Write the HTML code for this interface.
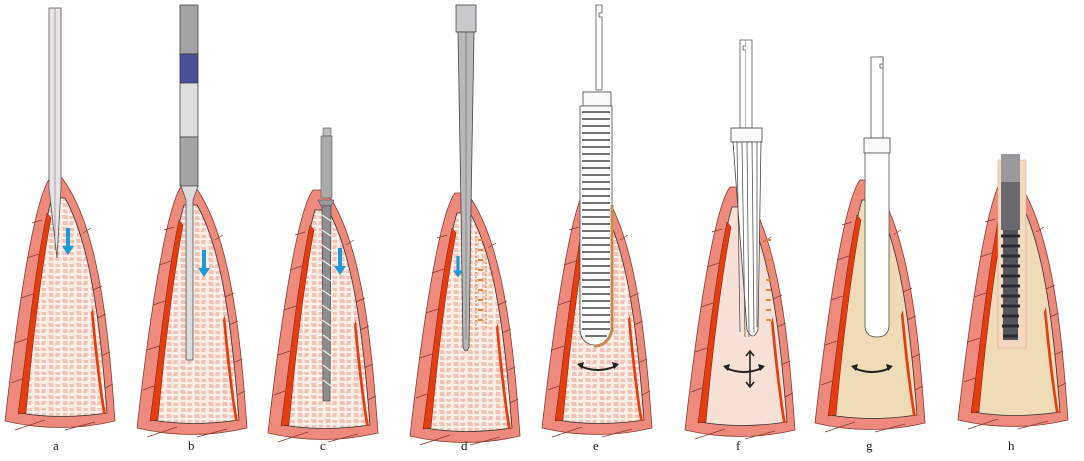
<!DOCTYPE html>
<html><head><meta charset="utf-8"><style>
html,body{margin:0;padding:0;background:#fff;}
svg{display:block;}
text{font-family:"Liberation Serif",serif;font-size:13px;fill:#222;}
</style></head><body>
<svg width="1084" height="461" viewBox="0 0 1084 461" xmlns="http://www.w3.org/2000/svg">
<defs>
<pattern id="bone" width="14" height="12" patternUnits="userSpaceOnUse">
<rect width="14" height="12" fill="#faefe6"/>
<path d="M1,1 h5 l1,4 h-5z M8,2 h5 v3 h-4z M2,7 h4 l1,4 h-5z M9,7 h4 l-1,4 h-4z" fill="#f2c4b8"/>
</pattern>
<g id="gum">
<path d="M45,0 C30,20 14,120 0,243 Q55,256 110,243 C104,160 95,50 57,0 Z" fill="#ee8a7c" stroke="#8a3a30" stroke-width="0.8"/>
<path d="M27,45 l10,-3 M22,80 l12,-4 M16,120 l12,-4 M10,165 l12,-4 M6,205 l11,-4 M78,55 l8,-5 M88,112 l9,-4 M92,140 l9,-4 M96,178 l9,-4 M100,210 l8,-4 M10,252 l30,-10 M60,252 l30,-8" stroke="#8a3a30" stroke-width="0.7" fill="none"/>
</g>
<path id="inner" d="M47,20 C35,60 25,150 15,235 Q55,242 102,235 C96,160 88,70 60,20 Z"/>
<g id="cort">
<path d="M42,35 C30,90 22,170 13,236 L21,235 C27,170 35,100 46,40 Z" fill="#e63c10" stroke="#6a2010" stroke-width="0.5"/>
<path d="M88,130 C93,180 97,215 101,236 L98,236 C94,210 90,180 86,135Z" fill="#e63c10"/>
</g>
<g id="arr"><path d="M-2,0 h4 v18 h4 l-6,9 l-6,-9 h4z" fill="#1a9ad6"/></g>
<g id="harr"><path d="M0,6 Q18,14 36,6" stroke="#222" stroke-width="2" fill="none"/><path d="M-3,4 l7,-2 l-2,7z M39,4 l-7,-2 l2,7z" fill="#222"/></g>
</defs>

<g transform="translate(5,178)"><use href="#gum"/><use href="#inner" fill="url(#bone)" stroke="#333" stroke-width="0.8"/><use href="#cort"/></g>
<g transform="translate(137,185)"><use href="#gum"/><use href="#inner" fill="url(#bone)" stroke="#333" stroke-width="0.8"/><use href="#cort"/></g>
<g transform="translate(268,190)"><use href="#gum"/><use href="#inner" fill="url(#bone)" stroke="#333" stroke-width="0.8"/><use href="#cort"/></g>
<g transform="translate(410,193)"><use href="#gum"/><use href="#inner" fill="url(#bone)" stroke="#333" stroke-width="0.8"/><use href="#cort"/></g>
<g transform="translate(542,185)"><use href="#gum"/><use href="#inner" fill="url(#bone)" stroke="#333" stroke-width="0.8"/><use href="#cort"/></g>
<g transform="translate(685,187)"><use href="#gum"/><use href="#inner" fill="#f7e0d6" stroke="#333" stroke-width="0.8"/><use href="#cort"/></g>
<g transform="translate(815,180)"><use href="#gum"/><use href="#inner" fill="#efdcb6" stroke="#333" stroke-width="0.8"/><use href="#cort"/></g>
<g transform="translate(958,177)"><use href="#gum"/><use href="#inner" fill="#efdcb6" stroke="#333" stroke-width="0.8"/><use href="#cort"/></g>

<!-- a -->
<path d="M49,8 h12 v180 l-4,70 l-8,-70z" fill="#e8e4e6" stroke="#555" stroke-width="0.8"/>
<line x1="55" y1="8" x2="55" y2="250" stroke="#777" stroke-width="0.6"/>
<use href="#arr" transform="translate(68,228)"/>

<!-- b -->
<rect x="180" y="5" width="18" height="49" fill="#a4a4a6" stroke="#444" stroke-width="0.8"/>
<rect x="180" y="54" width="18" height="29" fill="#4a5199" stroke="#333" stroke-width="0.8"/>
<rect x="180" y="83" width="18" height="54" fill="#dedede" stroke="#444" stroke-width="0.8"/>
<rect x="180" y="137" width="18" height="49" fill="#a4a4a6" stroke="#444" stroke-width="0.8"/>
<path d="M181,186 l5,14 v160 h7 v-160 l5,-14z" fill="#dcdcdc" stroke="#555" stroke-width="0.8"/>
<use href="#arr" transform="translate(204,250)"/>

<!-- c -->
<rect x="323" y="128" width="8" height="8" fill="#bbb" stroke="#555" stroke-width="0.6"/>
<rect x="321" y="136" width="11" height="62" fill="#aaa" stroke="#555" stroke-width="0.6"/>
<path d="M318,200 l16,0 l-3,6 l-10,0z" fill="#999" stroke="#444" stroke-width="0.6"/>
<path d="M322,206 h9 l-1,195 h-7z" fill="#8d8d8f" stroke="#333" stroke-width="0.6"/>
<path d="M322,215 l9,6 M322,230 l9,6 M322,245 l9,6 M322,260 l9,6 M322,275 l9,6 M322,290 l9,6 M322,305 l9,6 M322,320 l9,6 M323,335 l8,6 M323,350 l8,6 M323,365 l8,6 M323,380 l8,6" stroke="#eee" stroke-width="1.2"/>
<use href="#arr" transform="translate(340,248)"/>

<!-- d -->
<rect x="456" y="5" width="20" height="27" fill="#c9c9cc" stroke="#444" stroke-width="0.8"/>
<path d="M458,32 h16 l-3,175 l-2,140 q-3,8 -6,0 l-2,-140z" fill="#b9b9bc" stroke="#444" stroke-width="0.8"/>
<line x1="466" y1="32" x2="466" y2="340" stroke="#666" stroke-width="0.6"/>
<use href="#arr" transform="translate(458,256) scale(0.8)"/>
<path d="M476,232 v100 M486,258 v70" stroke="#d4884a" stroke-width="1" stroke-dasharray="2,2"/>
<path d="M478,240 h5 M478,250 h5 M478,260 h5 M478,270 h5 M478,280 h5 M478,290 h5 M478,300 h5 M478,310 h5 M478,320 h5" stroke="#e08a3a" stroke-width="2"/>

<!-- e -->
<path d="M596,5 h6 v8 h-3 v4 h3 v73 h-6z" fill="#fff" stroke="#555" stroke-width="0.8"/>
<rect x="583" y="92" width="28" height="14" fill="#fafafa" stroke="#444" stroke-width="0.8"/>
<path d="M580,106 h32 v225 q-2,14 -16,14 q-14,0 -16,-14z" fill="#fff" stroke="#444" stroke-width="0.8"/>
<g stroke="#222" stroke-width="1.3">
<path d="M582,112 h28 M582,119 h28 M582,126 h28 M582,133 h28 M582,140 h28 M582,147 h28 M582,154 h28 M582,161 h28 M582,168 h28 M582,175 h28 M582,182 h28 M582,189 h28 M582,196 h28 M582,203 h28 M582,210 h28 M582,217 h28 M582,224 h28 M582,231 h28 M582,238 h28 M582,245 h28 M582,252 h28 M582,259 h28 M582,266 h28 M582,273 h28 M582,280 h28 M582,287 h28 M582,294 h28 M582,301 h28 M582,308 h28 M582,315 h28 M582,322 h28 M582,329 h28 M585,336 h22"/>
</g>
<path d="M612,205 v125 q-4,16 -18,16" stroke="#c88a55" stroke-width="3" fill="none"/>
<use href="#harr" transform="translate(580,360)"/>

<!-- f -->
<path d="M740,40 h6 v6 h-3 v4 h3 v78 h-6z" fill="#fff" stroke="#555" stroke-width="0.8"/>
<path d="M746,40 h6 v88 h-6" fill="#fff" stroke="#555" stroke-width="0.8"/>
<rect x="731" y="128" width="31" height="14" fill="#fafafa" stroke="#444" stroke-width="0.8"/>
<path d="M733,142 h28 l-3,188 q-5,12 -11,0z" fill="#fff" stroke="#444" stroke-width="0.8"/>
<path d="M737,142 l3,190 M742,142 l3,195 M747,142 l2,195 M752,142 l2,190 M757,142 l0,185" stroke="#555" stroke-width="0.8"/>
<path d="M766,240 h5 M766,250 h5 M766,260 h5 M766,270 h5 M766,280 h5 M766,290 h5 M766,300 h5 M766,310 h5 M766,320 h5" stroke="#e08a3a" stroke-width="2"/>
<use href="#harr" transform="translate(726,362)"/>
<path d="M750,352 v34 M746,356 l4,-5 l4,5 M746,382 l4,5 l4,-5" stroke="#222" stroke-width="1.6" fill="none"/>

<!-- g -->
<path d="M871,57 h12 v81 h-12z" fill="#fff" stroke="#555" stroke-width="0.8"/>
<path d="M878,57 h5 v7 h-3 v4 h3" fill="#fff" stroke="#555" stroke-width="0.8"/>
<rect x="864" y="138" width="26" height="15" fill="#fafafa" stroke="#444" stroke-width="0.8"/>
<path d="M865,153 h24 v172 q0,12 -12,12 q-12,0 -12,-12z" fill="#fff" stroke="#555" stroke-width="0.8"/>
<use href="#harr" transform="translate(854,362)"/>

<!-- h -->
<rect x="998" y="160" width="28" height="188" fill="#f4d8c0" stroke="#e0a898" stroke-width="0.6"/>
<rect x="1001" y="154" width="19" height="28" fill="#9a9a9e"/>
<rect x="1001" y="182" width="19" height="48" fill="#6a6a6e"/>
<path d="M1003,230 h15 v110 h-15z" fill="#55565a"/>
<g stroke="#2a2a2e" stroke-width="3">
<path d="M1001,236 h19 M1001,246 h19 M1001,256 h19 M1001,266 h19 M1001,276 h19 M1001,286 h19 M1001,296 h19 M1001,306 h19 M1002,316 h17 M1002,326 h17 M1003,336 h15"/>
</g>

<text x="53" y="450">a</text>
<text x="188" y="450">b</text>
<text x="320" y="450">c</text>
<text x="461" y="450">d</text>
<text x="593" y="450">e</text>
<text x="736" y="450">f</text>
<text x="866" y="450">g</text>
<text x="1008" y="450">h</text>
</svg>
</body></html>
